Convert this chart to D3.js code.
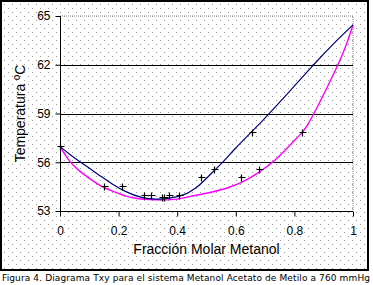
<!DOCTYPE html>
<html>
<head>
<meta charset="utf-8">
<script src="https://cdn.jsdelivr.net/npm/d3@7"></script>
<style>
  body { margin: 0; background: #fff; }
  svg { display: block; }
  .tick text { font-family: "Liberation Sans", Arial, sans-serif; font-size: 12px; fill: #000; }
</style>
</head>
<body>
<div id="chart"></div>
<script>
// Txy diagram, methanol / methyl acetate at 760 mmHg
const xTicks = [0, 0.2, 0.4, 0.6, 0.8, 1];
const yTicks = [53, 56, 59, 62, 65];

// dew curve (blue)
const vaporX = [0, 0.035, 0.07, 0.107, 0.141, 0.175, 0.221, 0.28, 0.33, 0.37, 0.427, 0.46, 0.489, 0.523, 0.557, 0.592, 0.654, 0.694, 0.714, 0.808, 0.865, 0.93, 1];
const vaporT = [56.97, 56.45, 56.0, 55.56, 55.11, 54.7, 54.19, 53.78, 53.72, 53.76, 53.98, 54.35, 54.8, 55.45, 56.0, 56.75, 57.88, 58.6, 59.0, 60.84, 62.0, 63.25, 64.45];

// bubble curve (magenta)
const liquidX = [0, 0.033, 0.061, 0.107, 0.141, 0.175, 0.221, 0.26, 0.32, 0.39, 0.444, 0.512, 0.58, 0.648, 0.683, 0.73, 0.796, 0.827, 0.842, 0.868, 0.95, 0.978, 1];
const liquidT = [56.97, 56.0, 55.52, 54.91, 54.5, 54.25, 53.92, 53.75, 53.68, 53.68, 53.9, 54.13, 54.43, 55.0, 55.45, 56.0, 57.27, 57.82, 58.21, 59.0, 62.0, 63.23, 64.45];

// experimental points
const expX = [0, 0.15, 0.21, 0.287, 0.31, 0.347, 0.355, 0.371, 0.405, 0.481, 0.524, 0.619, 0.68, 0.656, 0.827];
const expT = [56.97, 54.54, 54.54, 53.97, 53.97, 53.88, 53.88, 53.97, 53.97, 55.07, 55.57, 55.07, 55.57, 57.84, 57.84];

const W = 373, H = 285;
const plot = { left: 60, right: 353, top: 16, bottom: 211 };

const svg = d3.select('#chart').append('svg')
  .attr('width', W).attr('height', H);

// dotted background like the old spreadsheet fill
const pat = svg.append('defs').append('pattern')
  .attr('id', 'dots').attr('width', 8).attr('height', 8)
  .attr('patternUnits', 'userSpaceOnUse');
pat.append('rect').attr('width', 8).attr('height', 8).attr('fill', '#fff');
pat.append('rect').attr('x', 0).attr('y', 0).attr('width', 1).attr('height', 1).attr('fill', '#999');
pat.append('rect').attr('x', 4).attr('y', 4).attr('width', 1).attr('height', 1).attr('fill', '#999');

svg.append('rect')
  .attr('x', 1).attr('y', 1).attr('width', 367).attr('height', 269)
  .attr('fill', 'url(#dots)').attr('stroke', '#000').attr('stroke-width', 2);

const x = d3.scaleLinear().domain([0, 1]).range([plot.left, plot.right]);
const y = d3.scaleLinear().domain([53, 65]).range([plot.bottom, plot.top]);

// plot frame (dashed top/right)
svg.append('path')
  .attr('d', `M${plot.left},${plot.top}H${plot.right}V${plot.bottom}`)
  .attr('fill', 'none').attr('stroke', '#808080').attr('stroke-dasharray', '1,1');

// gridlines
svg.append('g')
  .selectAll('line')
  .data(yTicks.filter(t => t > 53 && t < 65))
  .join('line')
  .attr('x1', plot.left).attr('x2', plot.right)
  .attr('y1', d => Math.round(y(d)) + 0.5).attr('y2', d => Math.round(y(d)) + 0.5)
  .attr('stroke', '#000');

// axes
svg.append('g')
  .attr('transform', `translate(${plot.left + 0.5},0)`)
  .call(d3.axisLeft(y).tickValues(yTicks).tickSize(5).tickPadding(5).tickFormat(d3.format('d')))
  .call(g => g.selectAll('path, line').attr('stroke', '#000'))
  .call(g => g.select('.domain').attr('d', `M0,${plot.top}V${plot.bottom}`));

svg.append('g')
  .attr('transform', `translate(0,${plot.bottom + 0.5})`)
  .call(d3.axisBottom(x).tickValues(xTicks).tickSize(5).tickPadding(10).tickFormat(d => d === 0 || d === 1 ? d : d3.format('.1f')(d)))
  .call(g => g.selectAll('path, line').attr('stroke', '#000'))
  .call(g => g.select('.domain').attr('d', `M${plot.left},0H${plot.right}`));

// curves
const line = (xs, ts) => d3.line()
  .x((d, i) => x(xs[i]))
  .y((d, i) => y(ts[i]))
  .curve(d3.curveBasis)(xs);

svg.append('path')
  .attr('d', line(liquidX, liquidT))
  .attr('fill', 'none').attr('stroke', '#ff00ff').attr('stroke-width', 1.4);

svg.append('path')
  .attr('d', line(vaporX, vaporT))
  .attr('fill', 'none').attr('stroke', '#000080').attr('stroke-width', 1.2);

// markers
svg.append('g')
  .selectAll('path')
  .data(expX)
  .join('path')
  .attr('transform', (d, i) => `translate(${Math.round(x(d)) + 0.5},${Math.round(y(expT[i])) + 0.5})`)
  .attr('d', 'M-3,0H4M0,-3V4')
  .attr('stroke', '#000').attr('stroke-width', 1.2);

// axis titles
svg.append('text')
  .attr('x', (plot.left + plot.right) / 2).attr('y', 254)
  .attr('text-anchor', 'middle')
  .style('font-family', '"Liberation Sans", Arial, sans-serif').style('font-size', '14px')
  .text('Fracción Molar Metanol');

svg.append('text')
  .attr('transform', `translate(25,${(plot.top + plot.bottom) / 2}) rotate(-90)`)
  .attr('text-anchor', 'middle')
  .style('font-family', '"Liberation Sans", Arial, sans-serif').style('font-size', '14px')
  .text('Temperatura ºC');

// caption
svg.append('text')
  .attr('x', 2).attr('y', 281)
  .attr('textLength', 368).attr('lengthAdjust', 'spacing')
  .style('font-family', '"DejaVu Sans", sans-serif').style('font-size', '9px')
  .text('Figura 4. Diagrama Txy para el sistema Metanol Acetato de Metilo a 760 mmHg');
</script>
</body>
</html>
